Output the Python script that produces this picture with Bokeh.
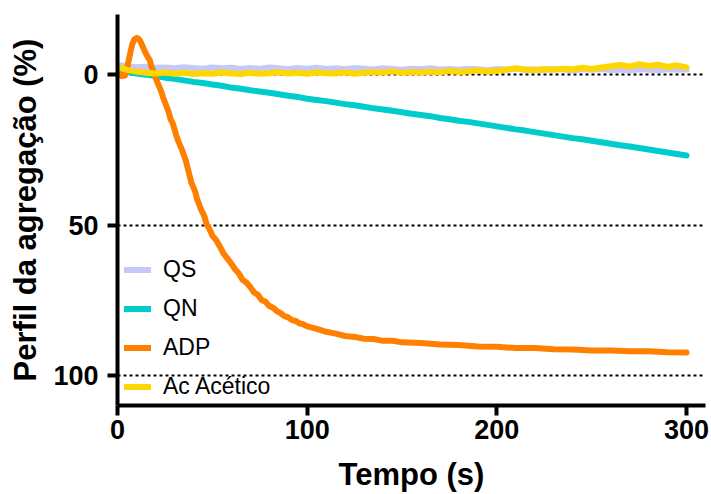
from bokeh.plotting import figure
from bokeh.models import Range1d, FixedTicker
from bokeh.embed import file_html
from bokeh.resources import INLINE

# ---- data ----
t5 = list(range(0, 305, 5))

qs = [-3.2, -2.8, -2.5, -2.6, -2.3, -2.4, -2.1, -2.5, -2.2, -2.0, -2.4, -2.1, -2.3, -1.9, -2.2, -2.0,
      -2.4, -2.1, -1.8, -2.2, -2.0, -2.3, -1.9, -2.1, -1.8, -2.2, -2.0, -1.7, -2.1, -1.9, -1.6, -2.0,
      -1.8, -2.1, -1.7, -1.9, -1.6, -2.0, -1.8, -1.5, -1.9, -1.7, -2.0, -1.6, -1.8, -1.5, -1.9, -1.7,
      -1.4, -1.8, -1.6, -1.9, -1.5, -1.7, -1.4, -1.8, -1.6, -1.5, -1.8, -1.6, -1.7]

qn = [-1.5, -1.0, -0.4, 0.0, 0.5, 1.0, 1.4, 1.9, 2.4, 2.8, 3.3, 3.7, 4.3, 4.7, 5.2, 5.6,
      6.0, 6.5, 7.0, 7.4, 8.0, 8.4, 8.8, 9.3, 9.8, 10.2, 10.7, 11.2, 11.6, 12.0, 12.5, 13.0,
      13.4, 13.8, 14.4, 14.8, 15.3, 15.7, 16.2, 16.7, 17.2, 17.7, 18.2, 18.6, 19.1, 19.6, 20.1,
      20.6, 21.1, 21.5, 22.0, 22.5, 23.0, 23.5, 23.9, 24.4, 24.9, 25.4, 25.9, 26.4, 26.9]

ac = [-2.5, -1.6, -1.0, -0.6, -0.4, -0.7, -0.3, -0.6, -0.2, -0.5, -0.3, -0.7, -0.4, -0.2, -0.6, -0.3,
      -0.5, -0.8, -0.4, -0.6, -0.3, -0.7, -0.5, -0.4, -0.8, -0.3, -0.6, -0.9, -0.7, -1.1, -0.6, -0.9,
      -0.7, -1.0, -0.8, -1.2, -0.9, -1.1, -1.4, -1.0, -1.3, -1.6, -2.1, -1.7, -1.5, -1.9, -1.6, -2.0,
      -1.8, -2.3, -1.9, -2.4, -2.8, -3.2, -2.7, -3.5, -2.9, -3.3, -2.6, -3.1, -2.4]

t_adp = [0, 2, 4, 5, 6, 7, 8, 9, 10, 11, 12, 13, 14, 15, 16, 17, 18, 19, 20, 21, 22, 23, 24, 25,
         26, 27, 28, 29, 30, 31, 32, 33, 34, 35, 36, 37, 38, 39, 40, 41, 42, 43, 44, 45, 46, 47,
         48, 49, 50, 52, 54, 56, 58, 60, 62, 64, 66, 68, 70, 72, 74, 76, 78, 80, 82, 84, 86, 88,
         90, 92, 94, 96, 98, 100, 105, 110, 115, 120, 125, 130, 135, 140, 145, 150, 160, 170, 180,
         190, 200, 210, 220, 230, 240, 250, 260, 270, 280, 290, 300]
adp = [-1.0, 0.5, 0.3, -2.0, -5.0, -8.0, -10.5, -11.8, -12.2, -12.0, -11.2, -9.8, -8.3, -7.0, -5.8,
       -4.8, -2.5, -1.0, 1.0, 2.5, 4.0, 5.5, 7.5, 9.2, 10.8, 12.5, 14.8, 16.0, 18.0, 20.2, 22.0,
       23.5, 25.0, 26.8, 28.5, 31.0, 33.5, 36.0, 37.5, 39.0, 41.5, 43.0, 44.8, 46.0, 47.5, 49.8,
       50.8, 52.0, 53.5, 55.0, 57.2, 59.6, 61.2, 62.8, 64.7, 66.1, 68.3, 69.1, 70.6, 72.4, 73.2,
       74.9, 75.5, 76.9, 77.5, 78.6, 79.3, 80.3, 80.7, 81.6, 81.9, 82.7, 83.0, 83.7, 84.5, 85.5,
       86.1, 86.9, 87.2, 87.8, 87.9, 88.5, 88.5, 89.0, 89.2, 89.7, 89.9, 90.4, 90.5, 90.9, 90.9,
       91.3, 91.4, 91.7, 91.7, 92.0, 92.0, 92.3, 92.4]

series_names = ["QS", "QN", "ADP", "Ac Acético"]
series_colors = ["#C8C8F6", "#00CCCC", "#FF8000", "#FFD700"]

x_ticks = [0, 100, 200, 300]
y_ticks = [0, 50, 100]

FONT = "Liberation Sans"

p = figure(width=709, height=494, output_backend="svg", toolbar_location=None,
           x_range=Range1d(0, 310), y_range=Range1d(110, -20),
           min_border_left=117, min_border_right=4, min_border_top=14, min_border_bottom=89)
p.outline_line_color = None
p.background_fill_color = "white"

xs = [t5, t5, t_adp, t5]
ys = [qs, qn, adp, ac]
for x, y, name, col in zip(xs, ys, series_names, series_colors):
    p.line(x, y, line_color=col, line_width=6, line_join="round", line_cap="round",
           legend_label=name)

# axes
for ax in (p.xaxis[0], p.yaxis[0]):
    ax.axis_line_width = 4
    ax.axis_line_color = "black"
    ax.major_tick_line_width = 4
    ax.major_tick_line_color = "black"
    ax.major_tick_out = 10
    ax.major_tick_in = 0
    ax.minor_tick_line_color = None
    ax.major_label_text_font = FONT
    ax.major_label_text_font_style = "bold"
    ax.major_label_text_font_size = "27px"
    ax.major_label_text_color = "black"
    ax.axis_label_text_font = FONT
    ax.axis_label_text_font_style = "bold"
    ax.axis_label_text_font_size = "31px"
    ax.axis_label_text_color = "black"

p.xaxis[0].ticker = FixedTicker(ticks=x_ticks)
p.yaxis[0].ticker = FixedTicker(ticks=y_ticks)
p.xaxis[0].axis_label = "Tempo (s)"
p.yaxis[0].axis_label = "Perfil da agregação (%)"
p.xaxis[0].major_label_standoff = 4
p.yaxis[0].major_label_standoff = 9
p.xaxis[0].axis_label_standoff = 15
p.yaxis[0].axis_label_standoff = 7

p.xgrid.visible = False
p.ygrid[0].ticker = FixedTicker(ticks=y_ticks)
p.ygrid[0].grid_line_color = "black"
p.ygrid[0].grid_line_width = 2
p.ygrid[0].grid_line_dash = "3 3"

leg = p.legend[0]
leg.location = (7, 5)
leg.background_fill_alpha = 0
leg.border_line_color = None
leg.padding = 0
leg.margin = 0
leg.spacing = 12
leg.glyph_width = 27
leg.glyph_height = 25
leg.label_height = 25
leg.label_standoff = 12
leg.label_text_font = FONT
leg.label_text_font_size = "23px"
leg.label_text_color = "black"

open("out.html", "w").write(file_html(p, INLINE))
